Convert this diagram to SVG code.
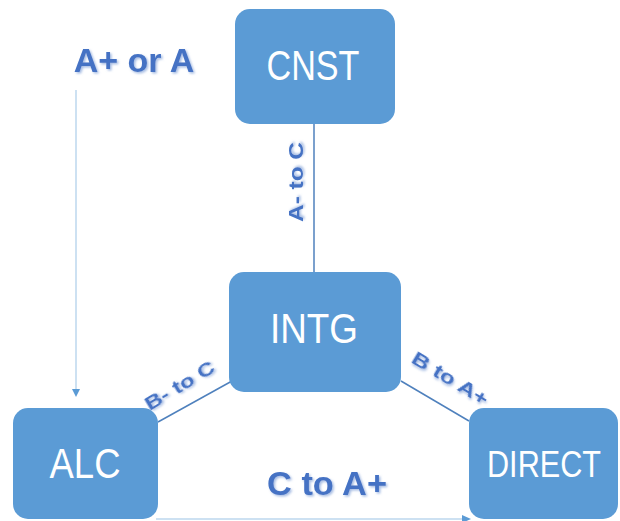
<svg xmlns="http://www.w3.org/2000/svg" width="620" height="521" viewBox="0 0 620 521">
<style>
.node rect{fill:#5b9bd5;}
.node text{fill:#ffffff;font-family:"Liberation Sans",Arial,sans-serif;font-size:42px;text-anchor:middle;}
.lbl{fill:#4472c4;font-family:"Liberation Sans",Arial,sans-serif;font-weight:bold;text-anchor:middle;filter:url(#sh);}
.edge{stroke:#4f81bd;stroke-width:1.5;fill:none;}
.arr{stroke:#bdd7ee;stroke-width:1.5;fill:none;}
.head{fill:#5b9bd5;}
</style>
<defs>
<filter id="sh" x="-20%" y="-20%" width="140%" height="160%">
<feDropShadow dx="1.5" dy="1.5" stdDeviation="0.8" flood-color="#8eaadb" flood-opacity="0.8"/>
</filter>
</defs>
<g id="connectors">
<line class="edge" x1="314" y1="124" x2="314" y2="272"/>
<line class="edge" x1="158" y1="422" x2="232" y2="381"/>
<line class="edge" x1="401" y1="381" x2="469" y2="421"/>
<line class="arr" x1="76" y1="90" x2="76" y2="390"/>
<path class="head" d="M72,389 L80,389 L76,397 z"/>
<line class="arr" x1="156" y1="519" x2="464" y2="519"/>
<path class="head" d="M462,515 L471,519 L462,523 z"/>
<text class="lbl" font-size="20" transform="translate(303,182) rotate(-90)" textLength="80" lengthAdjust="spacingAndGlyphs">A- to C</text>
<text class="lbl" font-size="19" transform="translate(183,391) rotate(-31)" textLength="78" lengthAdjust="spacingAndGlyphs">B- to C</text>
<text class="lbl" font-size="19" transform="translate(447,384) rotate(31)" textLength="86" lengthAdjust="spacingAndGlyphs">B to A+</text>
</g>
<text class="lbl" x="134" y="72" font-size="34">A+ or A</text>
<text class="lbl" x="327" y="495" font-size="34" textLength="120" lengthAdjust="spacingAndGlyphs">C to A+</text>
<g id="CNST" class="node">
<rect x="235" y="9" width="160" height="115" rx="15"/>
<text x="313" y="80" textLength="93" lengthAdjust="spacingAndGlyphs">CNST</text>
</g>
<g id="INTG" class="node">
<rect x="229" y="272" width="172" height="120" rx="15"/>
<text x="314" y="343" textLength="88" lengthAdjust="spacingAndGlyphs">INTG</text>
</g>
<g id="ALC" class="node">
<rect x="13" y="408" width="145" height="111" rx="15"/>
<text x="85" y="478" textLength="71" lengthAdjust="spacingAndGlyphs">ALC</text>
</g>
<g id="DIRECT" class="node">
<rect x="469" y="408" width="149" height="111" rx="15"/>
<text x="544" y="477" style="font-size:36px" textLength="114" lengthAdjust="spacingAndGlyphs">DIRECT</text>
</g>
</svg>
